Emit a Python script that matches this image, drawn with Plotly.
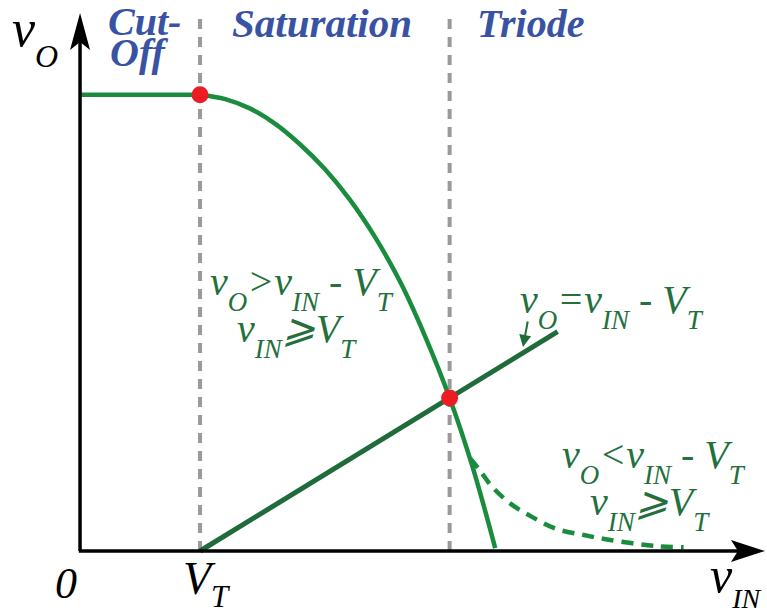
import plotly.graph_objects as go

# MOSFET inverter voltage transfer characteristic (normalised units, VT = 1)
VT = 1.0
VDD = 6.2

# cut-off region: output stays at VDD
cutoff_vin = [0.0, 1.0]
cutoff_vo = [6.2, 6.2]

# saturation branch of the transfer curve (continues below the triode boundary)
sat_vin = [1.00, 1.21, 1.42, 1.63, 1.83, 2.04, 2.25, 2.46, 2.67, 2.88, 3.08, 3.27, 3.46]
sat_vo = [6.20, 6.14, 6.01, 5.80, 5.53, 5.19, 4.77, 4.26, 3.65, 2.90, 2.08, 1.15, 0.04]

# boundary vO = vIN - VT
edge_vin = [1.00, 3.98]
edge_vo = [0.00, 2.98]

# triode branch (dashed)
triode_vin = [3.25, 3.33, 3.43, 3.59, 3.77, 3.97, 4.19, 4.38, 4.78, 5.03]
triode_vo = [1.26, 1.10, 0.88, 0.64, 0.46, 0.30, 0.22, 0.16, 0.07, 0.05]

# region transitions (cut-off -> saturation -> triode)
trans_vin = [1.00, 3.08]
trans_vo = [6.20, 2.08]

X_TIP = 5.708   # end of vIN axis
Y_TIP = 7.31    # end of vO axis
DIV_TOP = 7.28  # top of the region dividers

W, H = 767, 614
BLUE = "#3953a4"
CURVE = "#1a8c3e"
EDGE = "#1f6b3a"
TXT = "#23703c"
RED = "#ec1c24"
GRAY = "#9a9a9a"
FONT = "Liberation Serif"

fig = go.Figure()

fig.add_trace(go.Scatter(x=cutoff_vin, y=cutoff_vo, mode="lines",
                         line=dict(color=CURVE, width=4.5), hoverinfo="skip"))
fig.add_trace(go.Scatter(x=sat_vin, y=sat_vo, mode="lines",
                         line=dict(color=CURVE, width=4.5, shape="spline", smoothing=1.0),
                         hoverinfo="skip"))
fig.add_trace(go.Scatter(x=triode_vin, y=triode_vo, mode="lines",
                         line=dict(color=CURVE, width=4.5, shape="spline", dash="12px,8px"),
                         hoverinfo="skip"))
fig.add_trace(go.Scatter(x=edge_vin, y=edge_vo, mode="lines",
                         line=dict(color=EDGE, width=5), hoverinfo="skip"))
fig.add_trace(go.Scatter(x=trans_vin, y=trans_vo, mode="markers",
                         marker=dict(color=RED, size=17, line=dict(width=0)),
                         hoverinfo="skip"))

shapes = []
# region dividers
for xv in trans_vin:
    shapes.append(dict(type="line", xref="x", yref="y", x0=xv, x1=xv, y0=0, y1=DIV_TOP,
                       line=dict(color=GRAY, width=4, dash="10px,8px"), layer="below"))
# axes
shapes.append(dict(type="line", xref="x", yref="y", x0=0, x1=0, y0=0, y1=Y_TIP - 0.3,
                   line=dict(color="black", width=3.5)))
shapes.append(dict(type="line", xref="x", yref="y", x0=-0.01, x1=X_TIP - 0.2, y0=0, y1=0,
                   line=dict(color="black", width=3.5)))
# arrow heads (pixel-sized, anchored at axis ends)
shapes.append(dict(type="path", xref="x", yref="y", xsizemode="pixel", ysizemode="pixel",
                   xanchor=0, yanchor=Y_TIP,
                   path="M0,0 L-10,-37 L0,-29 L10,-37 Z",
                   fillcolor="black", line=dict(width=0)))
shapes.append(dict(type="path", xref="x", yref="y", xsizemode="pixel", ysizemode="pixel",
                   xanchor=X_TIP, yanchor=0,
                   path="M0,0 L-34,11 L-27,0 L-34,-11 Z",
                   fillcolor="black", line=dict(width=0)))


def sub(s, size, shift):
    return f'<span style="font-size:{size}px;baseline-shift:-{shift}px">{s}</span>'


def note(x, base, text, size, color, bold=False):
    return dict(xref="paper", yref="paper", x=x / W, y=1 - (base - 0.891 * size) / H,
                xanchor="left", yanchor="top", text=text, showarrow=False,
                borderpad=0, borderwidth=0,
                font=dict(family=FONT, size=size, color=color, style="italic",
                          weight="bold" if bold else "normal"))


def fs(s):
    return sub(s, 27, 16)


annotations = [
    # region names
    note(108, 35, "Cut-", 40, BLUE, True),
    note(110, 66, "Off", 40, BLUE, True),
    note(232, 37, "Saturation", 41, BLUE, True),
    note(477, 37, "Triode", 40, BLUE, True),
    # axis labels
    note(12, 46, "v" + sub("O", 32, 21), 52, "black"),
    note(55, 598, "0", 44, "black"),
    note(183, 594, "V" + sub("T", 31, 13), 46, "black"),
    note(710, 592, "v" + sub("IN", 28, 16), 50, "black"),
    # region conditions
    note(210, 295, "v" + fs("O") + "&gt;v" + fs("IN") + " - V" + fs("T"), 40, TXT),
    note(237, 342, "v" + fs("IN") + "⩾V" + fs("T"), 40, TXT),
    note(520, 313, "v" + fs("O") + "=v" + fs("IN") + " - V" + fs("T"), 40, TXT),
    note(562, 468, "v" + fs("O") + "&lt;v" + fs("IN") + " - V" + fs("T"), 40, TXT),
    note(590, 515, "v" + fs("IN") + "⩾V" + fs("T"), 40, TXT),
    # pointer to the boundary line
    dict(xref="paper", yref="paper", x=523 / W, y=1 - 347 / H, text="", showarrow=True,
         ax=5, ay=-27, arrowhead=2, arrowsize=1.2, arrowwidth=2, arrowcolor=EDGE),
]

fig.update_layout(
    width=W, height=H,
    margin=dict(l=0, r=0, t=0, b=0),
    paper_bgcolor="white", plot_bgcolor="white",
    showlegend=False,
    xaxis=dict(range=[-0.667, 5.725], visible=False, fixedrange=True),
    yaxis=dict(range=[-0.856, 7.486], visible=False, fixedrange=True),
    shapes=shapes,
    annotations=annotations,
)

fig.write_html("out.html")
